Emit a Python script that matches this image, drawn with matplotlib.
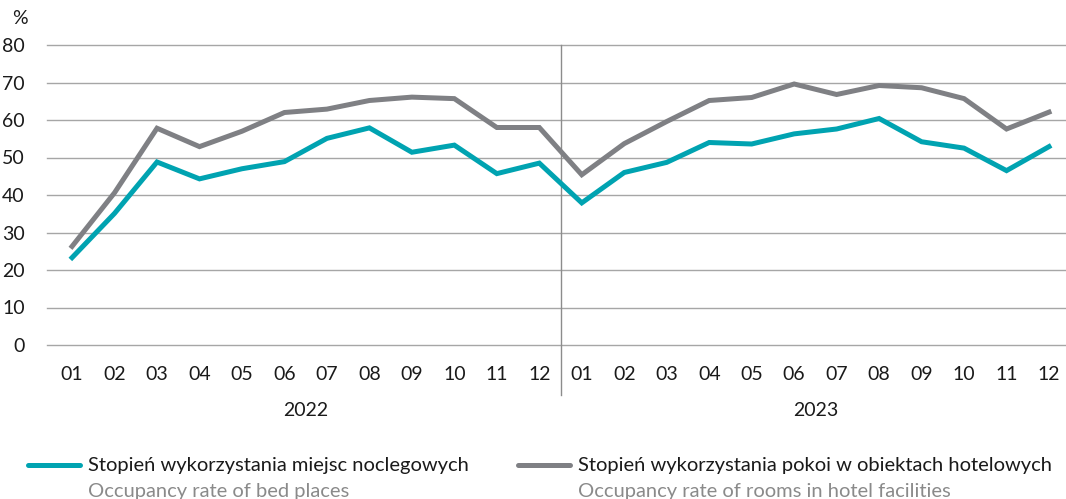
import matplotlib
matplotlib.use('Agg')
import matplotlib.pyplot as plt
from matplotlib.lines import Line2D

plt.rcParams['font.family'] = ['Lato', 'DejaVu Sans']

months = ['01', '02', '03', '04', '05', '06', '07', '08', '09', '10', '11', '12'] * 2
years = ['2022', '2023']

bed_places = [23.3, 35.1, 48.8, 44.3, 47.0, 48.9, 55.1, 57.9, 51.4, 53.3, 45.7, 48.5,
              37.9, 46.0, 48.7, 54.0, 53.6, 56.3, 57.6, 60.4, 54.2, 52.5, 46.5, 52.9]
hotel_rooms = [26.3, 40.6, 57.8, 52.9, 57.0, 62.0, 62.9, 65.2, 66.1, 65.7, 58.0, 58.0,
               45.4, 53.7, 59.6, 65.2, 66.0, 69.6, 66.8, 69.2, 68.6, 65.7, 57.6, 62.1]

label_pl = ['Stopień wykorzystania miejsc noclegowych',
            'Stopień wykorzystania pokoi w obiektach hotelowych']
label_en = ['Occupancy rate of bed places',
            'Occupancy rate of rooms in hotel facilities']

teal = '#00a3b1'
grey = '#7f8084'

W, H = 1066, 499
fig = plt.figure(figsize=(W / 100, H / 100), dpi=100)
ax = fig.add_axes([47 / W, 1 - 345 / H, (1066 - 47) / W, 300 / H])

x = list(range(len(months)))
ax.plot(x, bed_places, color=teal, lw=3.6, solid_joinstyle='miter', zorder=3)
ax.plot(x, hotel_rooms, color=grey, lw=3.6, solid_joinstyle='miter', zorder=3)

ax.set_ylim(0, 80)
ax.set_xlim(-0.59, 23.4)
ax.set_yticks(range(0, 81, 10))
ax.set_xticks(x)
ax.set_xticklabels(months)
for v in range(0, 81, 10):
    ax.axhline(v, color='#a6a6a6', lw=1.0, zorder=1, clip_on=False)
for s in ax.spines.values():
    s.set_visible(False)
ax.tick_params(length=0, labelsize=14, colors='#1a1a1a')
ax.tick_params(axis='y', pad=16)
ax.tick_params(axis='x', pad=15)

# year divider
ax.axvline(11.5, ymin=-0.167, ymax=1, color='#8c8c8c', lw=1.0, clip_on=False)

for i, yr in enumerate(years):
    ax.text(5.5 + 12 * i, -0.217, yr, transform=ax.get_xaxis_transform(),
            ha='center', va='center', fontsize=14, color='#1a1a1a')

fig.text(20 / W, 1 - 19 / H, '%', ha='center', va='center', fontsize=14, color='#1a1a1a')

# legend
for i, col in enumerate([teal, grey]):
    x0 = 28 + 490 * i
    fig.add_artist(Line2D([x0 / W, (x0 + 52) / W], [1 - 465 / H] * 2,
                          color=col, lw=3.6, solid_capstyle='round'))
    fig.text((x0 + 60) / W, 1 - 465 / H, label_pl[i], ha='left', va='center',
             fontsize=14.5, color='#1a1a1a')
    fig.text((x0 + 60) / W, 1 - 491 / H, label_en[i], ha='left', va='center',
             fontsize=14.5, color='#8a8a8a')

fig.savefig('out.png', dpi=100)
